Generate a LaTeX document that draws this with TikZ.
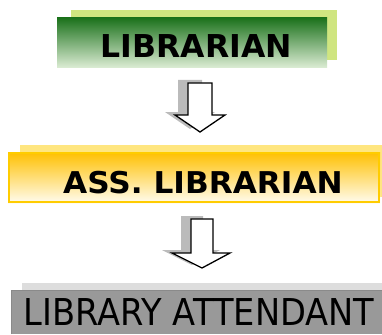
\documentclass[tikz,border=0pt]{standalone}
\usepackage{fontspec}
\setmainfont{DejaVu Sans}
\definecolor{backgreen}{HTML}{CFE580}
\definecolor{topgreen}{HTML}{1C721C}
\definecolor{botgreen}{HTML}{DDEDD5}
\definecolor{backyellow}{HTML}{FFE680}
\definecolor{topyellow}{HTML}{FFC000}
\definecolor{botyellow}{HTML}{FFFCF0}
\definecolor{boxborder}{HTML}{FFCC00}
\definecolor{backgray}{HTML}{DDDDDD}
\definecolor{midgray}{HTML}{999999}
\definecolor{edgegray}{HTML}{8A8A8A}
\definecolor{shadowgray}{HTML}{BBBBBB}
\begin{document}
\begin{tikzpicture}[x=1pt,y=-1pt,
  lbl/.style={anchor=base, inner sep=0pt, text=black},
  blockarrow/.style={fill=white, draw=black, line width=1.3pt, line join=miter},
  arrowshadow/.style={fill=shadowgray}]
\useasboundingbox (0,0) rectangle (382,334);
% box 1
\fill[backgreen] (71,10) rectangle (337,60);
\shade[top color=topgreen, bottom color=botgreen] (57,18) rectangle (327,68);
\node[lbl] (lib) at (196.5,58) {\fontsize{31.5}{32}\selectfont\bfseries LIBRARIAN};
% arrow 1
\fill[arrowshadow, shift={(-10,-3)}] (188,83) -- (212,83) -- (212,115) -- (225,115) -- (200,132) -- (175,115) -- (188,115) -- cycle;
\filldraw[blockarrow] (188,83) -- (212,83) -- (212,115) -- (225,115) -- (200,132) -- (175,115) -- (188,115) -- cycle;
% box 2
\fill[backyellow] (20,145) rectangle (382,197);
\shade[top color=topyellow, bottom color=botyellow] (8,152) rectangle (380,203);
\draw[boxborder, line width=1.6pt] (8.8,152.8) rectangle (379.2,202.2);
\node[lbl] (asslib) at (203,193) {\fontsize{30}{31}\selectfont\bfseries\scalebox{1.04}[1]{ASS. LIBRARIAN}};
% arrow 2
\fill[arrowshadow, shift={(-10,-3)}] (191,219) -- (213,219) -- (213,253) -- (230,253) -- (202,268) -- (172,253) -- (191,253) -- cycle;
\filldraw[blockarrow] (191,219) -- (213,219) -- (213,253) -- (230,253) -- (202,268) -- (172,253) -- (191,253) -- cycle;
% box 3
\fill[backgray] (22,283) rectangle (382,334);
\fill[midgray] (11,290) rectangle (382,334);
\draw[edgegray, line width=1.5pt] (11.7,334) -- (11.7,290.7) -- (382,290.7);
\node[lbl] (att) at (199,325) {\fontsize{37}{38}\selectfont\scalebox{0.91}[1]{LIBRARY ATTENDANT}};
\end{tikzpicture}
\end{document}
